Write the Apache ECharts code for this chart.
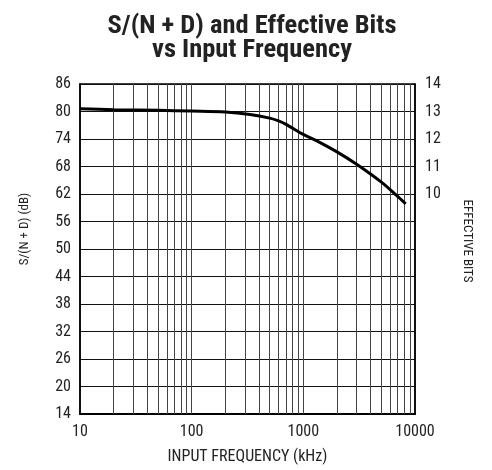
<!DOCTYPE html>
<html>
<head>
<meta charset="utf-8">
<script src="https://cdn.jsdelivr.net/npm/echarts@6/dist/echarts.min.js"></script>
<style>
  html, body { margin: 0; padding: 0; background: #fff; }
  #chart { width: 492px; height: 470px; }
</style>
</head>
<body>
<div id="chart"></div>
<script>
// curve
const freqKHz = [10, 20, 50, 100, 200, 333, 500, 600, 700, 1000, 1320, 2000, 3000, 5000, 6840, 8250];
const sndDb = [80.6, 80.4, 80.25, 80.1, 79.9, 79.35, 78.55, 77.95, 77.2, 75.0, 73.6, 71.2, 68.5, 64.6, 61.7, 59.85];
// vertical minor grid positions of the log axis
const minorFreqs = [20, 30, 40, 50, 60, 70, 80, 90, 100, 200, 300, 400, 500, 600, 700, 800, 900, 1000,
    2000, 3000, 4000, 5000, 6000, 7000, 8000, 9000];

const FONT = '"Roboto Condensed", "DejaVu Sans Condensed", sans-serif';

const chart = echarts.init(document.getElementById('chart'));

const seriesData = freqKHz.map((f, i) => [f, sndDb[i]]);

chart.setOption({
    animation: false,
    title: {
        text: 'S/(N + D) and Effective Bits\nvs Input Frequency',
        left: 247,
        textAlign: 'center',
        top: 9,
        textStyle: {
            fontFamily: FONT,
            fontSize: 26.5,
            fontWeight: 'bold',
            lineHeight: 24,
            color: '#222'
        }
    },
    grid: {
        left: 80,
        right: 77,
        top: 84,
        bottom: 52,
        show: true,
        borderColor: '#000',
        borderWidth: 1.5
    },
    xAxis: {
        type: 'log',
        logBase: 10,
        min: 10,
        max: 10000,
        name: 'INPUT FREQUENCY (kHz)',
        nameLocation: 'middle',
        nameGap: 35,
        nameTextStyle: { fontFamily: FONT, fontSize: 16, color: '#222' },
        axisLine: { lineStyle: { color: '#000', width: 2 } },
        axisTick: { show: false },
        axisLabel: {
            fontFamily: FONT,
            fontSize: 16,
            color: '#222',
            margin: 10,
            formatter: (v) => String(Math.round(v))
        },
        splitLine: { show: false }
    },
    yAxis: [
        {
            type: 'value',
            min: 14,
            max: 86,
            interval: 6,
            axisLine: { show: true, lineStyle: { color: '#000', width: 1.5 } },
            axisTick: { show: false },
            axisLabel: { fontFamily: FONT, fontSize: 16, color: '#222', margin: 9 },
            splitLine: { show: true, lineStyle: { color: '#111', width: 1 } }
        },
        {
            type: 'value',
            min: 2,
            max: 14,
            interval: 1,
            position: 'right',
            axisLine: { show: true, lineStyle: { color: '#000', width: 1.5 } },
            axisTick: { show: false },
            axisLabel: {
                fontFamily: FONT,
                fontSize: 16,
                color: '#222',
                margin: 10,
                formatter: (v) => (v >= 10 ? String(v) : '')
            },
            splitLine: { show: false }
        }
    ],
    graphic: [
        {
            type: 'text',
            x: 25,
            y: 229,
            rotation: Math.PI / 2,
            style: {
                text: 'S/(N + D) (dB)',
                font: '13px ' + FONT,
                fill: '#222',
                align: 'center',
                verticalAlign: 'middle'
            }
        },
        {
            type: 'text',
            x: 467,
            y: 241,
            rotation: -Math.PI / 2,
            style: {
                text: 'EFFECTIVE BITS',
                font: '13px ' + FONT,
                fill: '#222',
                align: 'center',
                verticalAlign: 'middle'
            }
        }
    ],
    series: [
        {
            type: 'line',
            data: seriesData,
            smooth: 0.3,
            symbol: 'none',
            lineStyle: { color: '#000', width: 3 },
            z: 5,
            markLine: {
                silent: true,
                symbol: 'none',
                label: { show: false },
                lineStyle: { color: '#444', width: 1, type: 'solid' },
                data: minorFreqs.map((f) => ({ xAxis: f }))
            }
        }
    ]
});
</script>
</body>
</html>
